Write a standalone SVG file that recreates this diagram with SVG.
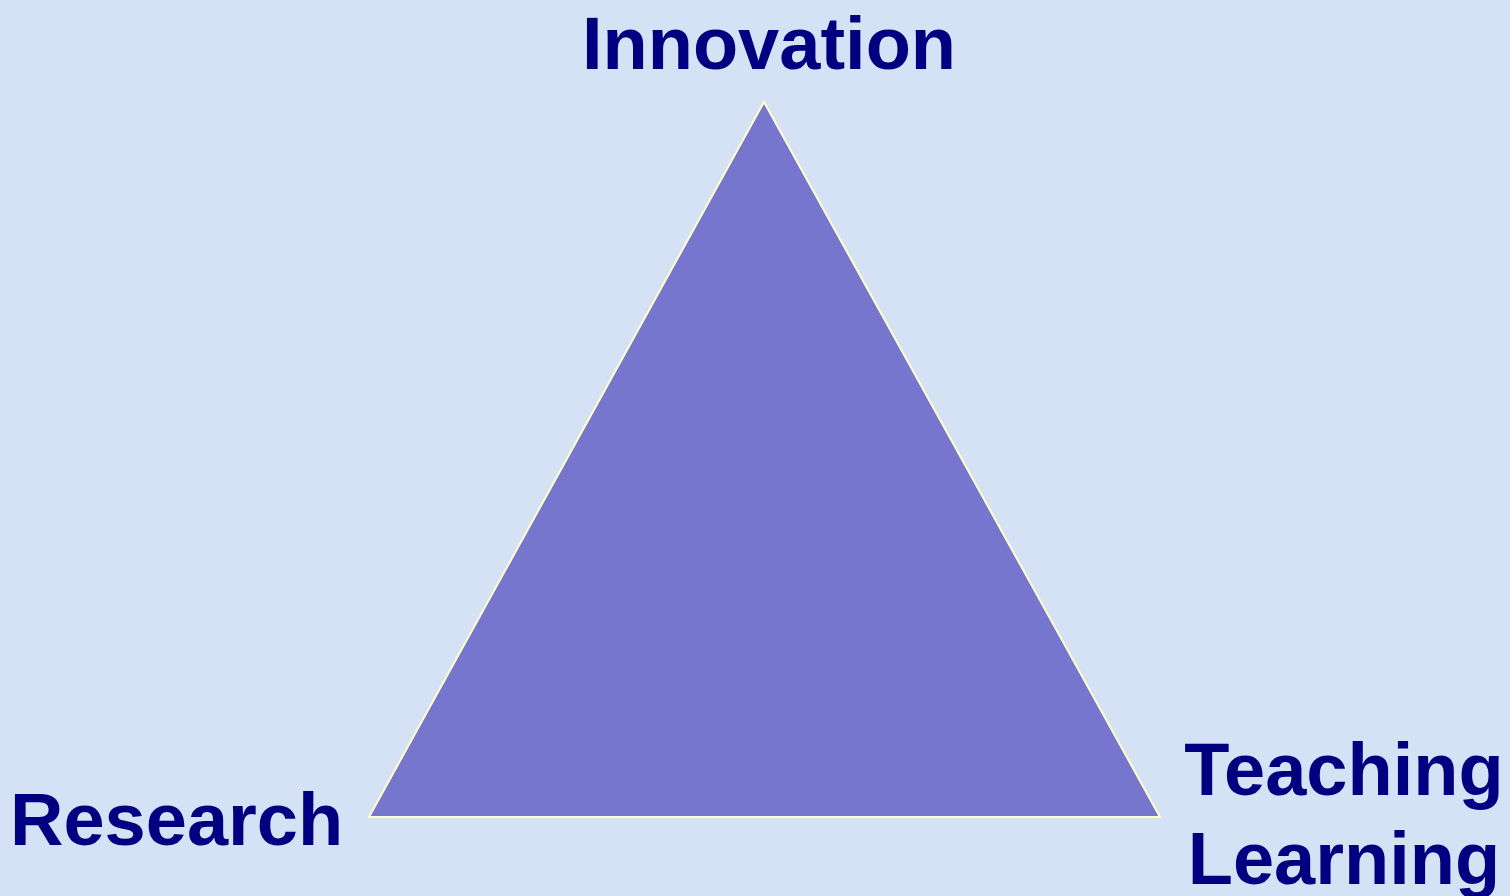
<svg xmlns="http://www.w3.org/2000/svg" width="1510" height="896" viewBox="0 0 1510 896">
<style>
.lbl{font-family:"Liberation Sans",Arial,sans-serif;font-weight:bold;font-size:74px;fill:#000080}
</style>
<rect x="0" y="0" width="1510" height="896" fill="#d5e1f4"/>
<g id="triangle">
<polygon points="764,102 369,817 1160,817" fill="#7776cf" stroke="#ffffcc" stroke-width="2"/>
</g>
<g id="innovation"><text class="lbl" x="769" y="69" text-anchor="middle">Innovation</text></g>
<g id="research"><text class="lbl" x="10" y="845">Research</text></g>
<g id="teaching-learning"><text class="lbl" x="1344" y="795" text-anchor="middle">Teaching</text><text class="lbl" x="1344" y="884" text-anchor="middle">Learning</text></g>
<g id="connectors"/>
</svg>
